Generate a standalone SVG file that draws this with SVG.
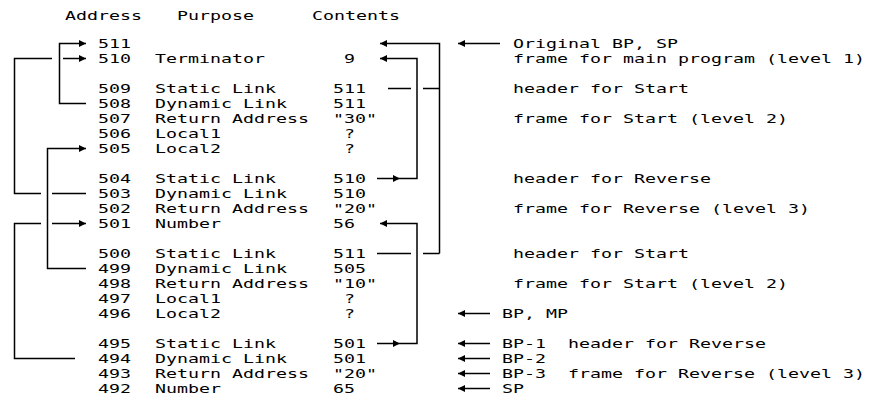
<svg xmlns="http://www.w3.org/2000/svg" width="872" height="400" viewBox="0 0 872 400">
<style>
text{font-family:"DejaVu Sans Mono","Liberation Mono",monospace;font-size:12.8px;fill:#000}
.c{fill:none;stroke:#000;stroke-width:1.5}
.a{marker-end:url(#ah)}
</style>
<defs>
<marker id="ah" viewBox="0 0 8 8" refX="8" refY="4" markerWidth="7" markerHeight="7" markerUnits="userSpaceOnUse" orient="auto">
<path d="M0,0 L8,4 L0,8 z" fill="#000"/>
</marker>
</defs>
<rect width="872" height="400" fill="#fff"/>
<g id="header">
<text x="65" y="20" textLength="77" lengthAdjust="spacingAndGlyphs">Address</text>
<text x="177" y="20" textLength="77" lengthAdjust="spacingAndGlyphs">Purpose</text>
<text x="312" y="20" textLength="88" lengthAdjust="spacingAndGlyphs">Contents</text>
</g>
<g id="row-511"><text x="98" y="48" textLength="33" lengthAdjust="spacingAndGlyphs">511</text></g>
<g id="row-510"><text x="98" y="63" textLength="33" lengthAdjust="spacingAndGlyphs">510</text><text x="155" y="63" textLength="110" lengthAdjust="spacingAndGlyphs">Terminator</text><text x="344" y="63" textLength="11" lengthAdjust="spacingAndGlyphs">9</text></g>
<g id="row-509"><text x="98" y="93" textLength="33" lengthAdjust="spacingAndGlyphs">509</text><text x="155" y="93" textLength="121" lengthAdjust="spacingAndGlyphs">Static Link</text><text x="333" y="93" textLength="33" lengthAdjust="spacingAndGlyphs">511</text></g>
<g id="row-508"><text x="98" y="108" textLength="33" lengthAdjust="spacingAndGlyphs">508</text><text x="155" y="108" textLength="132" lengthAdjust="spacingAndGlyphs">Dynamic Link</text><text x="333" y="108" textLength="33" lengthAdjust="spacingAndGlyphs">511</text></g>
<g id="row-507"><text x="98" y="123" textLength="33" lengthAdjust="spacingAndGlyphs">507</text><text x="155" y="123" textLength="154" lengthAdjust="spacingAndGlyphs">Return Address</text><text x="333" y="123" textLength="44" lengthAdjust="spacingAndGlyphs">"30"</text></g>
<g id="row-506"><text x="98" y="138" textLength="33" lengthAdjust="spacingAndGlyphs">506</text><text x="155" y="138" textLength="66" lengthAdjust="spacingAndGlyphs">Local1</text><text x="344" y="138" textLength="11" lengthAdjust="spacingAndGlyphs">?</text></g>
<g id="row-505"><text x="98" y="153" textLength="33" lengthAdjust="spacingAndGlyphs">505</text><text x="155" y="153" textLength="66" lengthAdjust="spacingAndGlyphs">Local2</text><text x="344" y="153" textLength="11" lengthAdjust="spacingAndGlyphs">?</text></g>
<g id="row-504"><text x="98" y="183" textLength="33" lengthAdjust="spacingAndGlyphs">504</text><text x="155" y="183" textLength="121" lengthAdjust="spacingAndGlyphs">Static Link</text><text x="333" y="183" textLength="33" lengthAdjust="spacingAndGlyphs">510</text></g>
<g id="row-503"><text x="98" y="198" textLength="33" lengthAdjust="spacingAndGlyphs">503</text><text x="155" y="198" textLength="132" lengthAdjust="spacingAndGlyphs">Dynamic Link</text><text x="333" y="198" textLength="33" lengthAdjust="spacingAndGlyphs">510</text></g>
<g id="row-502"><text x="98" y="213" textLength="33" lengthAdjust="spacingAndGlyphs">502</text><text x="155" y="213" textLength="154" lengthAdjust="spacingAndGlyphs">Return Address</text><text x="333" y="213" textLength="44" lengthAdjust="spacingAndGlyphs">"20"</text></g>
<g id="row-501"><text x="98" y="228" textLength="33" lengthAdjust="spacingAndGlyphs">501</text><text x="155" y="228" textLength="66" lengthAdjust="spacingAndGlyphs">Number</text><text x="333" y="228" textLength="22" lengthAdjust="spacingAndGlyphs">56</text></g>
<g id="row-500"><text x="98" y="258" textLength="33" lengthAdjust="spacingAndGlyphs">500</text><text x="155" y="258" textLength="121" lengthAdjust="spacingAndGlyphs">Static Link</text><text x="333" y="258" textLength="33" lengthAdjust="spacingAndGlyphs">511</text></g>
<g id="row-499"><text x="98" y="273" textLength="33" lengthAdjust="spacingAndGlyphs">499</text><text x="155" y="273" textLength="132" lengthAdjust="spacingAndGlyphs">Dynamic Link</text><text x="333" y="273" textLength="33" lengthAdjust="spacingAndGlyphs">505</text></g>
<g id="row-498"><text x="98" y="288" textLength="33" lengthAdjust="spacingAndGlyphs">498</text><text x="155" y="288" textLength="154" lengthAdjust="spacingAndGlyphs">Return Address</text><text x="333" y="288" textLength="44" lengthAdjust="spacingAndGlyphs">"10"</text></g>
<g id="row-497"><text x="98" y="303" textLength="33" lengthAdjust="spacingAndGlyphs">497</text><text x="155" y="303" textLength="66" lengthAdjust="spacingAndGlyphs">Local1</text><text x="344" y="303" textLength="11" lengthAdjust="spacingAndGlyphs">?</text></g>
<g id="row-496"><text x="98" y="318" textLength="33" lengthAdjust="spacingAndGlyphs">496</text><text x="155" y="318" textLength="66" lengthAdjust="spacingAndGlyphs">Local2</text><text x="344" y="318" textLength="11" lengthAdjust="spacingAndGlyphs">?</text></g>
<g id="row-495"><text x="98" y="348" textLength="33" lengthAdjust="spacingAndGlyphs">495</text><text x="155" y="348" textLength="121" lengthAdjust="spacingAndGlyphs">Static Link</text><text x="333" y="348" textLength="33" lengthAdjust="spacingAndGlyphs">501</text></g>
<g id="row-494"><text x="98" y="363" textLength="33" lengthAdjust="spacingAndGlyphs">494</text><text x="155" y="363" textLength="132" lengthAdjust="spacingAndGlyphs">Dynamic Link</text><text x="333" y="363" textLength="33" lengthAdjust="spacingAndGlyphs">501</text></g>
<g id="row-493"><text x="98" y="378" textLength="33" lengthAdjust="spacingAndGlyphs">493</text><text x="155" y="378" textLength="154" lengthAdjust="spacingAndGlyphs">Return Address</text><text x="333" y="378" textLength="44" lengthAdjust="spacingAndGlyphs">"20"</text></g>
<g id="row-492"><text x="98" y="393" textLength="33" lengthAdjust="spacingAndGlyphs">492</text><text x="155" y="393" textLength="66" lengthAdjust="spacingAndGlyphs">Number</text><text x="333" y="393" textLength="22" lengthAdjust="spacingAndGlyphs">65</text></g>
<g id="notes">
<text x="513" y="48" textLength="165" lengthAdjust="spacingAndGlyphs">Original BP, SP</text>
<text x="513" y="63" textLength="352" lengthAdjust="spacingAndGlyphs">frame for main program (level 1)</text>
<text x="513" y="93" textLength="176" lengthAdjust="spacingAndGlyphs">header for Start</text>
<text x="513" y="123" textLength="275" lengthAdjust="spacingAndGlyphs">frame for Start (level 2)</text>
<text x="513" y="183" textLength="198" lengthAdjust="spacingAndGlyphs">header for Reverse</text>
<text x="513" y="213" textLength="297" lengthAdjust="spacingAndGlyphs">frame for Reverse (level 3)</text>
<text x="513" y="258" textLength="176" lengthAdjust="spacingAndGlyphs">header for Start</text>
<text x="513" y="288" textLength="275" lengthAdjust="spacingAndGlyphs">frame for Start (level 2)</text>
<text x="502" y="318" textLength="66" lengthAdjust="spacingAndGlyphs">BP, MP</text>
<text x="502" y="348" textLength="44" lengthAdjust="spacingAndGlyphs">BP-1</text>
<text x="568" y="348" textLength="198" lengthAdjust="spacingAndGlyphs">header for Reverse</text>
<text x="502" y="363" textLength="44" lengthAdjust="spacingAndGlyphs">BP-2</text>
<text x="502" y="378" textLength="44" lengthAdjust="spacingAndGlyphs">BP-3</text>
<text x="568" y="378" textLength="297" lengthAdjust="spacingAndGlyphs">frame for Reverse (level 3)</text>
<text x="502" y="393" textLength="22" lengthAdjust="spacingAndGlyphs">SP</text>
</g>
<g id="connectors">
<path class="c a" d="M86,103.5 H59.5 V43.5 H86"/>
<path class="c" d="M86,193.5 H52 M41,193.5 H14.5 V58.5 H52"/>
<path class="c a" d="M63,58.5 H86"/>
<path class="c a" d="M86,268.5 H47.5 V148.5 H86"/>
<path class="c" d="M75,358.5 H14.5 V223.5 H41"/>
<path class="c a" d="M52,223.5 H86"/>
<path class="c" d="M388,88.5 H411 M423,88.5 H439.5 M377,253.5 H411 M423,253.5 H439.5"/>
<path class="c a" d="M439.5,253.5 V43.5 H380"/>
<path class="c a" d="M377,178.5 H400"/>
<path class="c a" d="M400,178.5 H417 V58.5 H380"/>
<path class="c a" d="M377,343.5 H400"/>
<path class="c a" d="M400,343.5 H417 V223.5 H380"/>
<path class="c a" d="M500,43.5 H458"/>
<path class="c a" d="M490,313.5 H458"/>
<path class="c a" d="M490,343.5 H458"/>
<path class="c a" d="M490,358.5 H458"/>
<path class="c a" d="M490,373.5 H458"/>
<path class="c a" d="M490,388.5 H458"/>
</g>
</svg>
